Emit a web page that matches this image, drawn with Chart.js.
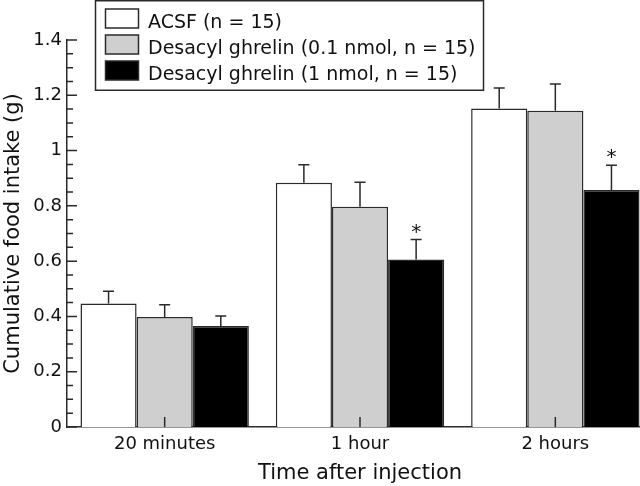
<!DOCTYPE html>
<html>
<head>
<meta charset="utf-8">
<script src="https://cdn.jsdelivr.net/npm/chart.js@4/dist/chart.umd.min.js"></script>
<style>
  html, body { margin: 0; padding: 0; background: #fff; overflow: hidden; }
  #wrap { width: 660px; height: 486px; position: relative; }
</style>
</head>
<body>
<div id="wrap"><canvas id="c" width="660" height="486"></canvas></div>
<script>
// ---- data ----
const categories = ['20 minutes', '1 hour', '2 hours'];
const seriesNames = ['ACSF (n = 15)', 'Desacyl ghrelin (0.1 nmol, n = 15)', 'Desacyl ghrelin (1 nmol, n = 15)'];
const acsf = [0.447, 0.884, 1.152];
const acsfErr = [0.044, 0.065, 0.074];
const dg01 = [0.398, 0.797, 1.144];
const dg01Err = [0.044, 0.088, 0.097];
const dg1 = [0.365, 0.606, 0.857];
const dg1Err = [0.037, 0.072, 0.090];
const dg1Significant = [false, true, true];
const yMin = 0, yMax = 1.4, yMinorStep = 0.05, yLabelStep = 0.2;
const xTitle = 'Time after injection';
const yTitle = 'Cumulative food intake (g)';

const INK = '#2a2a2a';
const FONT = "'DejaVu Sans', sans-serif";

const errorBarPlugin = {
  id: 'errorBars',
  afterDatasetsDraw(chart) {
    const ctx = chart.ctx;
    const y = chart.scales.y;
    ctx.save();
    ctx.strokeStyle = INK;
    ctx.lineWidth = 1.5;
    chart.data.datasets.forEach((ds, di) => {
      const meta = chart.getDatasetMeta(di);
      meta.data.forEach((bar, i) => {
        const v = ds.data[i], e = ds.errors[i];
        const yTop = y.getPixelForValue(v + e);
        const yBar = y.getPixelForValue(v);
        ctx.beginPath();
        ctx.moveTo(bar.x, yBar);
        ctx.lineTo(bar.x, yTop);
        ctx.moveTo(bar.x - 5.5, yTop);
        ctx.lineTo(bar.x + 5.5, yTop);
        ctx.stroke();
        if (ds.significant && ds.significant[i]) {
          ctx.fillStyle = '#111';
          ctx.font = '20px ' + FONT;
          ctx.textAlign = 'center';
          ctx.textBaseline = 'alphabetic';
          ctx.fillText('*', bar.x, yTop - 2);
        }
      });
    });
    // x tick marks pointing up into the plot
    const x = chart.scales.x;
    const base = y.getPixelForValue(0);
    ctx.beginPath();
    x.ticks.forEach((t, i) => {
      const px = x.getPixelForTick(i);
      ctx.moveTo(px, base);
      ctx.lineTo(px, base - 10);
    });
    ctx.stroke();
    ctx.restore();
  },
  afterDraw(chart) {
    const ctx = chart.ctx;
    const y = chart.scales.y;
    const left = chart.chartArea.left;
    ctx.save();
    ctx.strokeStyle = INK;
    ctx.lineWidth = 1.5;
    ctx.beginPath();
    y.ticks.forEach(t => {
      const py = y.getPixelForValue(t.value);
      const major = t.label !== '';
      ctx.moveTo(left, py);
      ctx.lineTo(left + (major ? 10 : 6), py);
    });
    ctx.stroke();
    // legend box
    ctx.lineWidth = 1.5;
    ctx.strokeRect(95.5, 0.75, 388, 89.5);
    ctx.font = '19px ' + FONT;
    ctx.textAlign = 'left';
    ctx.textBaseline = 'alphabetic';
    chart.data.datasets.forEach((ds, i) => {
      const top = 9 + i * 26;
      ctx.fillStyle = ds.backgroundColor;
      ctx.fillRect(105.5, top, 33, 19);
      ctx.strokeStyle = INK;
      ctx.strokeRect(105.5, top, 33, 19);
      ctx.fillStyle = '#111';
      ctx.fillText(ds.label, 148, top + 19);
    });
    ctx.restore();
  }
};

const mk = (label, data, errors, color, sig) => ({
  label, data, errors, significant: sig,
  backgroundColor: color,
  borderColor: INK,
  borderWidth: 1.5,
  borderSkipped: 'bottom',
  barPercentage: 1.0,
  categoryPercentage: 0.862
});

new Chart(document.getElementById('c'), {
  type: 'bar',
  data: {
    labels: categories,
    datasets: [
      mk(seriesNames[0], acsf, acsfErr, '#ffffff', null),
      mk(seriesNames[1], dg01, dg01Err, '#cfcfcf', null),
      mk(seriesNames[2], dg1, dg1Err, '#000000', dg1Significant)
    ]
  },
  options: {
    responsive: false,
    animation: false,
    layout: { padding: { top: 40, right: 7, left: 0, bottom: 0 } },
    plugins: { legend: { display: false }, tooltip: { enabled: false } },
    scales: {
      x: {
        grid: { display: false, drawTicks: false },
        border: { display: true, color: INK, width: 1.5 },
        ticks: { color: '#111', font: { family: FONT, size: 18 }, padding: 7, maxRotation: 0 },
        title: { display: true, text: xTitle, color: '#111', font: { family: FONT, size: 21 }, padding: { top: 0, bottom: 0 } },
        afterFit(s) { s.height = 59; }
      },
      y: {
        min: yMin, max: yMax,
        grid: { display: false, drawTicks: false },
        border: { display: true, color: INK, width: 1.5 },
        ticks: {
          stepSize: yMinorStep, autoSkip: false, padding: 5, color: '#111',
          font: { family: FONT, size: 18 },
          callback: (v) => {
            const r = Math.round(v * 100);
            return r % Math.round(yLabelStep * 100) === 0 ? String(r / 100) : '';
          }
        },
        title: { display: true, text: yTitle, color: '#111', font: { family: FONT, size: 21 }, padding: { top: 1, bottom: 0 } },
        afterFit(s) { s.width = 67; }
      }
    }
  },
  plugins: [errorBarPlugin]
});
</script>
</body>
</html>
